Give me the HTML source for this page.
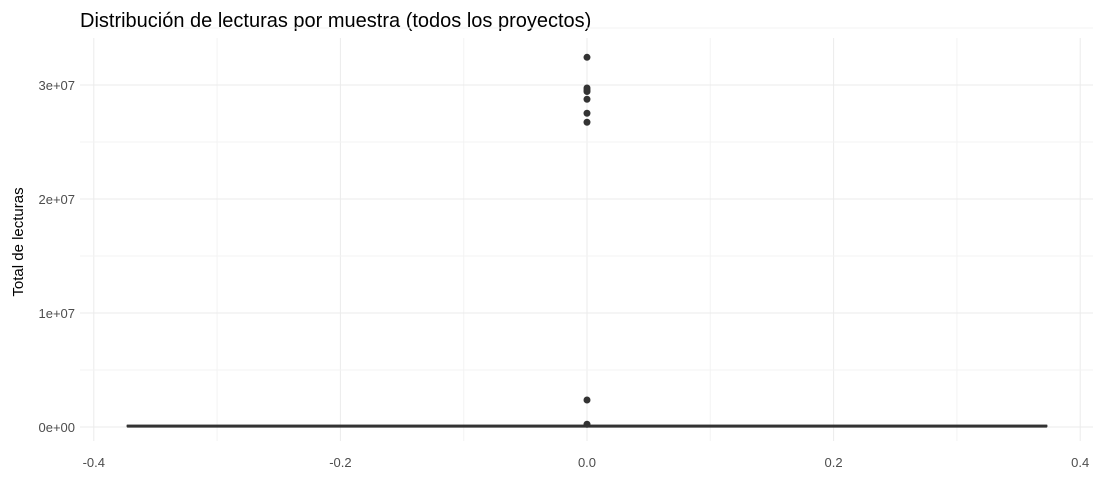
<!DOCTYPE html>
<html><head><meta charset="utf-8"><style>
body{margin:0;background:#fff;font-family:"Liberation Sans",sans-serif}
</style></head><body>
<svg id="chart" width="1103" height="478" xmlns="http://www.w3.org/2000/svg" font-family="Liberation Sans, sans-serif">
<text x="80" y="27" font-size="20" fill="#000">Distribución de lecturas por muestra (todos los proyectos)</text>
<text transform="translate(23,242) rotate(-90)" text-anchor="middle" font-size="15" fill="#000">Total de lecturas</text>
<g id="grid"></g><g id="marks"></g><g id="ticks"></g>
</svg>
<script>
const xTicks=[-0.4,-0.2,0,0.2,0.4];
const xTickLabels=["-0.4","-0.2","0.0","0.2","0.4"];
const yTicks=[0,1e7,2e7,3e7];
const yTickLabels=["0e+00","1e+07","2e+07","3e+07"];
const outliers=[3.243e7,2.974e7,2.956e7,2.943e7,2.875e7,2.752e7,2.673e7,2.37e6,2.4e5];
const boxStats=[0,3e4,8e4,1.5e5,3e5]; // min,q1,median,q3,max
const boxHalfWidth=[0.373];
const NS="http://www.w3.org/2000/svg";
const X=v=>587+v*1233;
const Y=v=>427-v*114e-7;
const L=80,R=1093,T=38,B=441;
function mk(t,a,p){const e=document.createElementNS(NS,t);for(const k in a)e.setAttribute(k,a[k]);p.appendChild(e);return e;}
const g=document.getElementById('grid'),m=document.getElementById('marks'),tk=document.getElementById('ticks');
xTicks.forEach((v,i)=>{
 let l=mk('line',{x1:X(v),x2:X(v),y1:T,y2:B,stroke:'#ebebeb','stroke-width':1},g);
 
 if(i<xTicks.length-1){let l2=mk('line',{x1:X(v+0.1),x2:X(v+0.1),y1:T,y2:B,stroke:'#f3f3f3','stroke-width':1},g);
 }
 let t=mk('text',{x:X(v),y:467,'text-anchor':'middle','font-size':13,fill:'#4d4d4d'},tk);t.textContent=xTickLabels[i];
 
});
yTicks.forEach((v,i)=>{
 let l=mk('line',{x1:L,x2:R,y1:Y(v),y2:Y(v),stroke:'#ebebeb','stroke-width':1},g);
 
 let l2=mk('line',{x1:L,x2:R,y1:Y(v+5e6),y2:Y(v+5e6),stroke:'#f3f3f3','stroke-width':1},g);
 
 let t=mk('text',{x:75,y:Y(v)+5,'text-anchor':'end','font-size':13,fill:'#4d4d4d'},tk);t.textContent=yTickLabels[i];
 
});
const hw=boxHalfWidth[0];
let box=mk('rect',{x:X(-hw),y:Y(boxStats[3]),width:X(hw)-X(-hw),height:Math.max(1,Y(boxStats[1])-Y(boxStats[3])),fill:'#fff',stroke:'#333','stroke-width':1},m);

let med=mk('line',{x1:X(-hw),x2:X(hw),y1:Y(boxStats[2]),y2:Y(boxStats[2]),stroke:'#333','stroke-width':3},m);

outliers.forEach(v=>{
 let c=mk('circle',{cx:X(0),cy:Y(v),r:3.5,fill:'#333'},m);
 
});
</script>
</body></html>
